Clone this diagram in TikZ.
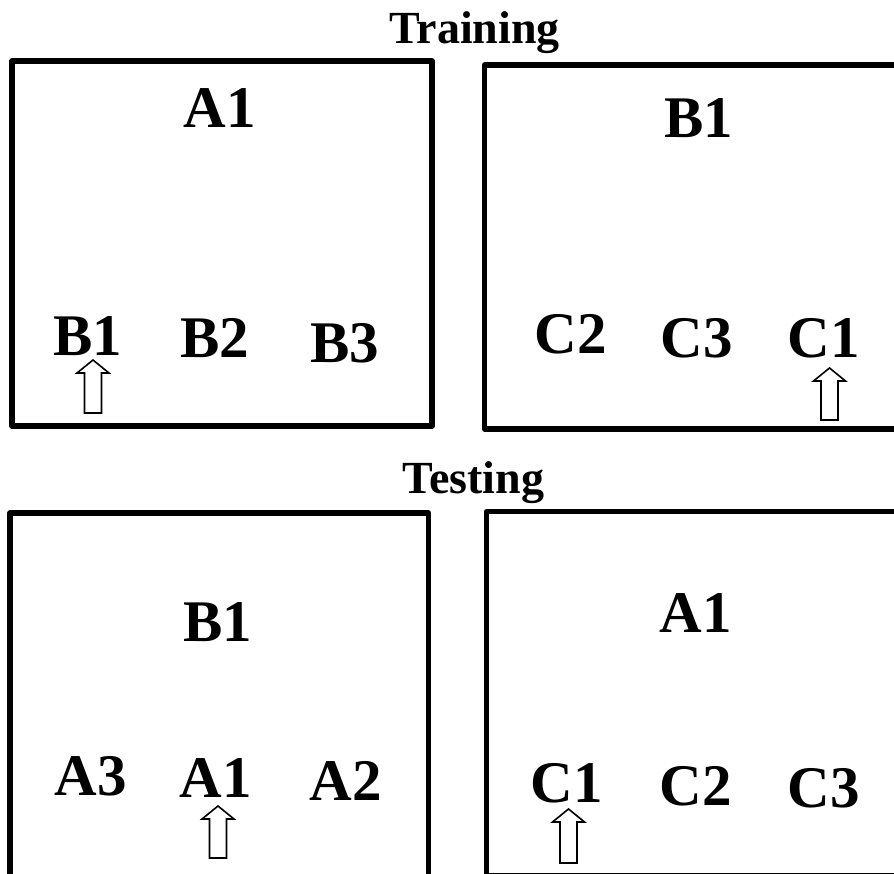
\documentclass[tikz,border=0pt]{standalone}
\usepackage{fontspec}
\setmainfont{Liberation Serif}
\begin{document}
\begin{tikzpicture}[x=1pt,y=-1pt,
  panel/.style={draw=black,line width=5.2pt,line join=round},
  lbl/.style={anchor=base,inner sep=0pt,font=\bfseries\fontsize{59}{60}\selectfont},
  ttl/.style={anchor=base,inner sep=0pt,font=\bfseries\fontsize{46}{48}\selectfont},
  hollow/.style={draw=black,fill=white,line width=1.6pt,line join=miter},
  uparrow/.pic={\path[hollow] (0,0) -- (16,13) -- (8.5,13) -- (8.5,#1) -- (-8.5,#1) -- (-8.5,13) -- (-16,13) -- cycle;}
]
\useasboundingbox (0,0) rectangle (894,873);
\clip (0,0) rectangle (894,873);
\fill[white] (0,0) rectangle (894,873);

% panels
\draw[panel] (12,61) rectangle (432,426);
\draw[panel] (484.5,65) rectangle (905,429);
\draw[panel] (10,513) rectangle (428.5,890);
\draw[panel] (486.5,511.7) rectangle (905,876);

% titles
\node[ttl] (training) at (474.5,43) {Training};
\node[ttl] (testing) at (473.5,493) {Testing};

% training left
\node[lbl] (p1top) at (220,127) {A1};
\node[lbl] (p1b1) at (88,355) {B1};
\node[lbl] (p1b2) at (215,357) {B2};
\node[lbl] (p1b3) at (345,362) {B3};
\pic at (93,360) {uparrow=53};

% training right
\node[lbl] (p2top) at (699,137) {B1};
\node[lbl] (p2c2) at (571,353) {C2};
\node[lbl] (p2c3) at (697,357) {C3};
\node[lbl] (p2c1) at (824,357) {C1};
\pic at (829.5,368) {uparrow=52};

% testing left
\node[lbl] (p3top) at (218,641) {B1};
\node[lbl] (p3a3) at (91,795) {A3};
\node[lbl] (p3a1) at (216,797) {A1};
\node[lbl] (p3a2) at (346,800) {A2};
\pic at (218,806) {uparrow=52};

% testing right
\node[lbl] (p4top) at (696,632) {A1};
\node[lbl] (p4c1) at (567,802) {C1};
\node[lbl] (p4c2) at (696,805) {C2};
\node[lbl] (p4c3) at (824,807) {C3};
\pic at (568.5,809) {uparrow=54};
\end{tikzpicture}
\end{document}
